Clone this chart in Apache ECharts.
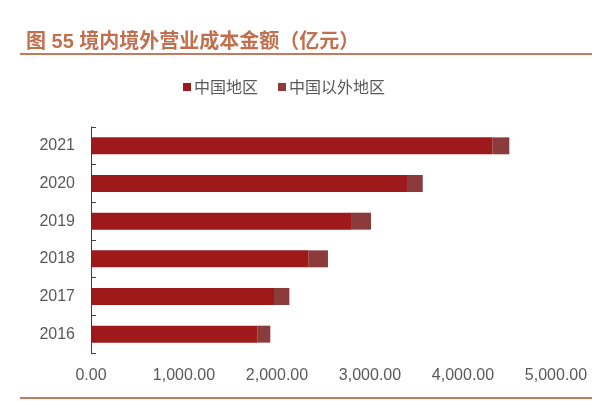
<!DOCTYPE html>
<html>
<head>
<meta charset="utf-8">
<script src="https://cdn.jsdelivr.net/npm/echarts@6/dist/echarts.min.js"></script>
<style>html,body{margin:0;padding:0;background:#fff}#c{width:592px;height:401px}</style>
</head>
<body>
<div id="c"></div>
<script>
var years = ['2016','2017','2018','2019','2020','2021'];
var chinaValues = [1792, 1968, 2341, 2796, 3398, 4319];
var overseasValues = [136, 165, 207, 215, 169, 179];
var seriesNames = ['中国地区', '中国以外地区'];
var xTicks = {min: 0, max: 5000, interval: 1000};

var chart = echarts.init(document.getElementById('c'));
var lineColor = '#c47a5c';
chart.setOption({
  animation: false,
  textStyle: {fontFamily: '"Liberation Sans", Arial, "Noto Sans CJK SC", sans-serif'},
  title: {
    text: '图 55 境内境外营业成本金额（亿元）',
    left: 21, top: 27,
    textStyle: {color: '#c0704e', fontSize: 20, fontWeight: 'bold', fontFamily: '"Liberation Sans", "Noto Sans CJK SC", sans-serif'}
  },
  graphic: [
    {type: 'line', shape: {x1: 20, y1: 54, x2: 592, y2: 54}, style: {stroke: lineColor, lineWidth: 2}},
    {type: 'line', shape: {x1: 20, y1: 398, x2: 592, y2: 398}, style: {stroke: lineColor, lineWidth: 2}}
  ],
  legend: {
    left: 178, top: 74,
    itemWidth: 8, itemHeight: 8, itemGap: 20,
    icon: 'rect',
    textStyle: {color: '#595959', fontSize: 16, fontFamily: '"Noto Sans CJK SC", sans-serif', padding: [0,0,0,-2]},
    data: seriesNames
  },
  grid: {left: 91, right: 36, top: 127, bottom: 48, containLabel: false},
  xAxis: {
    type: 'value',
    min: xTicks.min, max: xTicks.max, interval: xTicks.interval,
    axisLine: {show: false}, axisTick: {show: false}, splitLine: {show: false},
    axisLabel: {
      color: '#595959', fontSize: 16, margin: 15,
      formatter: function (v) { return v.toLocaleString('en-US', {minimumFractionDigits: 2, maximumFractionDigits: 2}); }
    }
  },
  yAxis: {
    type: 'category',
    data: years,
    axisLine: {show: true, lineStyle: {color: '#404040', width: 1}},
    axisTick: {show: true, inside: true, length: 5, lineStyle: {color: '#404040'}},
    axisLabel: {color: '#595959', fontSize: 16, margin: 16}
  },
  series: [
    {name: seriesNames[0], type: 'bar', stack: 't', data: chinaValues, barWidth: '45%', itemStyle: {color: '#9e1a1a'}},
    {name: seriesNames[1], type: 'bar', stack: 't', data: overseasValues, barWidth: '45%', itemStyle: {color: '#8b3b3b'}}
  ]
});
</script>
</body>
</html>
